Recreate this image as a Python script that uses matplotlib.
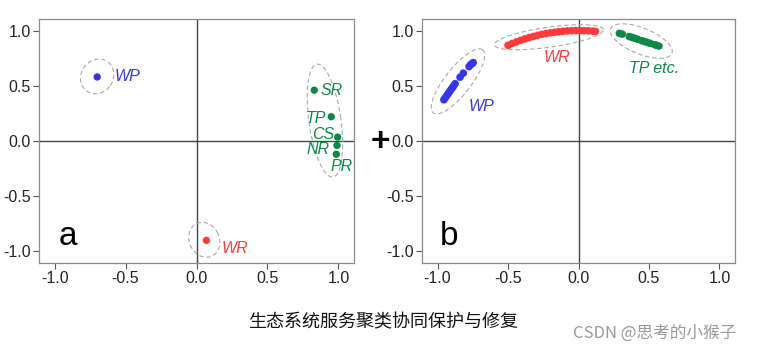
import numpy as np
import matplotlib
matplotlib.use("Agg")
import matplotlib.pyplot as plt

plt.rcParams['font.family'] = ['Liberation Sans', 'DejaVu Sans']

# ---------------- data ----------------
# panel a : single points
a_names = ["WP", "WR", "SR", "TP", "CS", "NR", "PR"]
a_x = [-0.70, 0.07, 0.83, 0.95, 0.995, 0.99, 0.985]
a_y = [0.58, -0.90, 0.46, 0.22, 0.035, -0.04, -0.12]
a_group = ["WP", "WR", "TP", "TP", "TP", "TP", "TP"]

# panel b : clusters
b_wp_x = [-0.955, -0.945, -0.935, -0.925, -0.915, -0.905, -0.895, -0.885, -0.875,
          -0.840, -0.817, -0.776, -0.766, -0.756, -0.747]
b_wp_y = [0.373, 0.391, 0.409, 0.428, 0.446, 0.464, 0.482, 0.500, 0.519,
          0.578, 0.615, 0.674, 0.690, 0.700, 0.710]
b_wr_x = [-0.50, -0.47, -0.44, -0.41, -0.38, -0.35, -0.32, -0.29, -0.26, -0.23, -0.20,
          -0.17, -0.14, -0.11, -0.08, -0.05, -0.02, 0.01, 0.04, 0.07, 0.10, 0.12]
b_wr_y = [0.866, 0.883, 0.898, 0.912, 0.925, 0.937, 0.947, 0.957, 0.966, 0.973, 0.980,
          0.985, 0.990, 0.994, 0.997, 0.999, 1.000, 1.000, 0.999, 0.998, 0.995, 0.993]
b_tp_x = [0.29, 0.31, 0.36, 0.38, 0.40, 0.42, 0.45, 0.47, 0.49, 0.51, 0.54, 0.555, 0.57]
b_tp_y = [0.975, 0.968, 0.946, 0.938, 0.930, 0.921, 0.908, 0.900, 0.892, 0.884,
          0.872, 0.866, 0.860]

ticks = [-1.0, -0.5, 0.0, 0.5, 1.0]
tick_labels = ["-1.0", "-0.5", "0.0", "0.5", "1.0"]
caption = "生态系统服务聚类协同保护与修复"
watermark = "CSDN @思考的小猴子"

colors = {"WP": "#3535f0", "WR": "#ff3a3a", "TP": "#0a8a45"}

# ellipses: (center x, center y) in data, semi-axes (px), angle (deg, display)
ell_a = [((-0.70, 0.585), 16, 18, -35), ((0.055, -0.895), 15, 18, 25),
         ((0.905, 0.185), 16, 57, 8)]
ell_b = [((-0.855, 0.54), 40, 13, 52), ((-0.21, 0.94), 55, 10, 8),
         ((0.445, 0.905), 33, 13, -22)]

# ---------------- figure ----------------
W, H = 763, 353
fig = plt.figure(figsize=(W / 100, H / 100), dpi=100)
ax_a = fig.add_axes([39 / W, 1 - 263 / H, 315 / W, 244 / H])
ax_b = fig.add_axes([422 / W, 1 - 263 / H, 313 / W, 244 / H])

for ax in (ax_a, ax_b):
    ax.set_xlim(-1.11, 1.11)
    ax.set_ylim(-1.105, 1.105)
    ax.set_xticks(ticks)
    ax.set_xticklabels(tick_labels)
    ax.set_yticks(ticks)
    ax.set_yticklabels(tick_labels)
    ax.tick_params(direction='out', length=4, width=0.8, color='#555555',
                   labelsize=11.5, labelcolor='#222222', pad=2)
    for s in ax.spines.values():
        s.set_color('#8a8a8a')
        s.set_linewidth(0.9)
    ax.axhline(0, color='#444444', lw=1.0, zorder=1)
    ax.axvline(0, color='#444444', lw=1.0, zorder=1)


def draw_ellipse(ax, center, a_px, b_px, ang):
    t = np.linspace(0, 2 * np.pi, 200)
    th = np.deg2rad(ang)
    ex = a_px * np.cos(t)
    ey = b_px * np.sin(t)
    dx = ex * np.cos(th) - ey * np.sin(th)
    dy = ex * np.sin(th) + ey * np.cos(th)
    c = ax.transData.transform(center)
    pts = np.column_stack([c[0] + dx, c[1] + dy])
    d = ax.transData.inverted().transform(pts)
    ax.plot(d[:, 0], d[:, 1], ls=(0, (4, 2.5)), color='#a8a8a8', lw=0.8, zorder=2)


# panel a
for n, x, y, g in zip(a_names, a_x, a_y, a_group):
    ax_a.scatter([x], [y], s=28, color=colors[g], zorder=3, edgecolors='none')
for e in ell_a:
    draw_ellipse(ax_a, *e)

lab_kw = dict(fontsize=11.5, style='italic', va='center')
ax_a.text(-0.575, 0.58, "WP", color=colors["WP"], ha='left', **lab_kw)
ax_a.text(0.175, -0.97, "WR", color=colors["WR"], ha='left', **lab_kw)
ax_a.text(0.873, 0.46, "SR", color=colors["TP"], ha='left', **lab_kw)
ax_a.text(0.91, 0.205, "TP", color=colors["TP"], ha='right', **lab_kw)
ax_a.text(0.968, 0.055, "CS", color=colors["TP"], ha='right', **lab_kw)
ax_a.text(0.94, -0.08, "NR", color=colors["TP"], ha='right', **lab_kw)
ax_a.text(1.02, -0.23, "PR", color=colors["TP"], ha='center', **lab_kw)
ax_a.text(-0.975, -0.945, "a", fontsize=24, ha='left', va='baseline', color='black')

# panel b
ax_b.scatter(b_wp_x, b_wp_y, s=30, color=colors["WP"], zorder=3, edgecolors='none')
ax_b.scatter(b_wr_x, b_wr_y, s=30, color=colors["WR"], zorder=3, edgecolors='none')
ax_b.scatter(b_tp_x, b_tp_y, s=30, color=colors["TP"], zorder=3, edgecolors='none')
for e in ell_b:
    draw_ellipse(ax_b, *e)
ax_b.text(-0.69, 0.31, "WP", color=colors["WP"], ha='center', **lab_kw)
ax_b.text(-0.15, 0.76, "WR", color=colors["WR"], ha='center', **lab_kw)
ax_b.text(0.535, 0.66, "TP etc.", color=colors["TP"], ha='center', **lab_kw)
ax_b.text(-0.985, -0.945, "b", fontsize=24, ha='left', va='baseline', color='black')

# plus sign between panels
fig.text(380 / W, 1 - 142 / H, "+", fontsize=24, fontweight='bold', ha='center',
         va='center', color='black')

# caption and watermark
fig.text(383 / W, 1 - 322 / H, caption, fontsize=13, ha='center', va='center',
         family=['Noto Sans CJK SC', 'DejaVu Sans'], color='#111111')
fig.text(655 / W, 1 - 333 / H, watermark, fontsize=12, ha='center', va='center',
         family=['Noto Sans CJK SC', 'DejaVu Sans'], color='#9a9a9a')

fig.savefig("out.png", dpi=100)
